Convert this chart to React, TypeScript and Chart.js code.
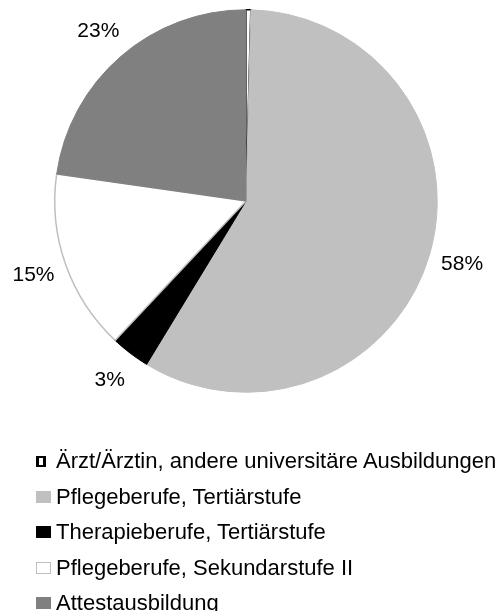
import React, { useEffect, useRef } from "react";
import { Chart, registerables } from "chart.js";

Chart.register(...registerables);

const categories = [
  "Ärzt/Ärztin, andere universitäre Ausbildungen",
  "Pflegeberufe, Tertiärstufe",
  "Therapieberufe, Tertiärstufe",
  "Pflegeberufe, Sekundarstufe II",
  "Attestausbildung",
];
const values = [0.4, 58.3, 3.3, 15.25, 22.75];
const fillColors = ["#ffffff", "#c0c0c0", "#000000", "#ffffff", "#808080"];
const edgeColors = ["#000000", "#c0c0c0", "#000000", "#bfbfbf", "#808080"];

const FONT = "'Liberation Sans', Arial, Helvetica, sans-serif";

const labelPlugin = {
  id: "outerLabels",
  afterDatasetsDraw(chart: any) {
    const ctx = chart.ctx;
    const meta = chart.getDatasetMeta(0);
    const data = chart.data.datasets[0].data as number[];
    const total = data.reduce((a, b) => a + b, 0);
    ctx.save();
    ctx.font = `21px ${FONT}`;
    ctx.fillStyle = "#000";
    ctx.textAlign = "center";
    ctx.textBaseline = "middle";
    meta.data.forEach((arc: any, i: number) => {
      const pct = (data[i] / total) * 100;
      if (pct < 1) return;
      const { x, y, startAngle, endAngle, outerRadius } = arc.getProps(
        ["x", "y", "startAngle", "endAngle", "outerRadius"],
        true
      );
      const mid = (startAngle + endAngle) / 2;
      const d = outerRadius + 34;
      ctx.fillText(Math.round(pct) + "%", x + Math.cos(mid) * d, y + Math.sin(mid) * d);
    });
    ctx.restore();
  },
};

export default function App() {
  const ref = useRef<HTMLCanvasElement | null>(null);
  useEffect(() => {
    if (!ref.current) return;
    const chart = new Chart(ref.current, {
      type: "pie",
      data: {
        labels: categories,
        datasets: [
          {
            data: values,
            backgroundColor: fillColors,
            borderColor: edgeColors,
            borderWidth: [1.5, 1, 1, 1.5, 1],
          },
        ],
      },
      options: {
        responsive: false,
        animation: false,
        layout: { padding: { left: 54, top: 9, right: 64, bottom: 218 } },
        plugins: {
          legend: { display: false },
          tooltip: { enabled: false },
        },
      },
      plugins: [labelPlugin],
    });
    return () => chart.destroy();
  }, []);

  const rowTop = 461;
  const rowGap = 35.5;

  return (
    <div style={{ position: "absolute", left: 0, top: 0, width: 502, height: 611, overflow: "hidden", background: "#fff" }}>
      <canvas ref={ref} width={502} height={611} style={{ position: "absolute", left: 0, top: 0 }} />
      {categories.map((c, i) => {
        const cy = rowTop + i * rowGap;
        const first = i === 0;
        const boxStyle: React.CSSProperties = first
          ? {
              position: "absolute",
              left: 36,
              top: cy - 5.5,
              width: 4,
              height: 7,
              background: "#fff",
              borderLeft: "3px solid #000",
              borderRight: "3px solid #000",
              borderTop: "2px solid #000",
              borderBottom: "2px solid #000",
            }
          : {
              position: "absolute",
              left: 36,
              top: cy - 6,
              width: i === 3 ? 13 : 15,
              height: i === 3 ? 10 : 12,
              background: fillColors[i],
              border: i === 3 ? "1px solid #bfbfbf" : "none",
            };
        return (
          <React.Fragment key={c}>
            <span style={boxStyle} />
            <span
              style={{
                position: "absolute",
                left: 56,
                top: cy - 13,
                height: 26,
                lineHeight: "26px",
                fontFamily: FONT,
                fontSize: 22,
                color: "#000",
                whiteSpace: "nowrap",
              }}
            >
              {c}
            </span>
          </React.Fragment>
        );
      })}
    </div>
  );
}
